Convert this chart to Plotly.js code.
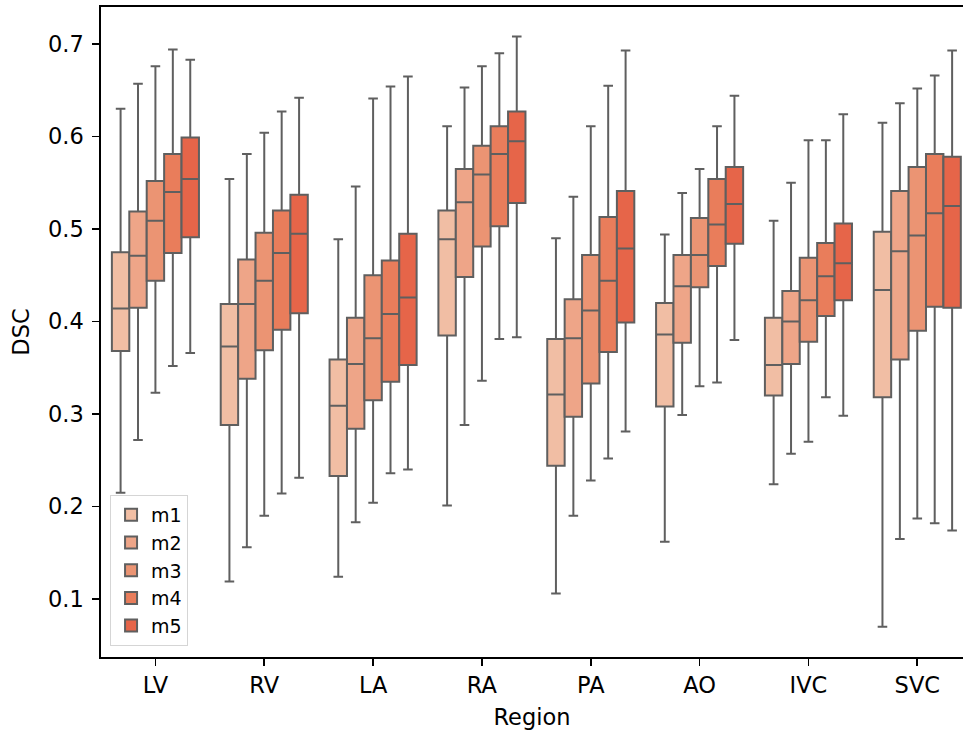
<!DOCTYPE html>
<html>
<head>
<meta charset="utf-8">
<script src="https://cdn.plot.ly/plotly-3.0.1.min.js"></script>
<style>html,body{margin:0;padding:0;background:#fff}#chart{width:964px;height:732px}</style>
</head>
<body>
<div id="chart"></div>
<script>
const regions = ["LV","RV","LA","RA","PA","AO","IVC","SVC"];
const models = ["m1","m2","m3","m4","m5"];
const colors = ["#F1BEA4","#EEA588","#EB9473","#E97D5B","#E66549"];

// per model: values for each region (LV,RV,LA,RA,PA,AO,IVC,SVC)
const m1_low = [0.215,0.119,0.124,0.201,0.106,0.162,0.224,0.070];
const m1_q1  = [0.368,0.288,0.233,0.385,0.244,0.308,0.320,0.318];
const m1_med = [0.414,0.373,0.309,0.489,0.321,0.386,0.353,0.434];
const m1_q3  = [0.475,0.419,0.359,0.520,0.381,0.420,0.404,0.497];
const m1_high= [0.630,0.554,0.489,0.611,0.490,0.494,0.509,0.615];

const m2_low = [0.272,0.156,0.183,0.288,0.190,0.299,0.257,0.165];
const m2_q1  = [0.415,0.338,0.284,0.448,0.297,0.377,0.354,0.359];
const m2_med = [0.471,0.419,0.354,0.529,0.382,0.438,0.400,0.476];
const m2_q3  = [0.519,0.467,0.404,0.565,0.424,0.472,0.433,0.541];
const m2_high= [0.657,0.581,0.546,0.653,0.535,0.539,0.550,0.636];

const m3_low = [0.323,0.190,0.204,0.336,0.228,0.330,0.270,0.187];
const m3_q1  = [0.444,0.369,0.315,0.481,0.333,0.437,0.378,0.390];
const m3_med = [0.509,0.444,0.382,0.559,0.412,0.472,0.423,0.493];
const m3_q3  = [0.552,0.496,0.450,0.590,0.472,0.512,0.469,0.567];
const m3_high= [0.676,0.604,0.641,0.676,0.611,0.565,0.596,0.652];

const m4_low = [0.352,0.214,0.236,0.381,0.252,0.334,0.318,0.182];
const m4_q1  = [0.474,0.391,0.335,0.503,0.367,0.460,0.406,0.416];
const m4_med = [0.540,0.474,0.408,0.581,0.444,0.505,0.449,0.517];
const m4_q3  = [0.581,0.520,0.466,0.611,0.513,0.554,0.485,0.581];
const m4_high= [0.694,0.627,0.654,0.690,0.655,0.611,0.596,0.666];

const m5_low = [0.366,0.231,0.240,0.383,0.281,0.380,0.298,0.174];
const m5_q1  = [0.491,0.409,0.353,0.528,0.399,0.484,0.423,0.415];
const m5_med = [0.554,0.495,0.426,0.595,0.479,0.527,0.463,0.525];
const m5_q3  = [0.599,0.537,0.495,0.627,0.541,0.567,0.506,0.578];
const m5_high= [0.683,0.642,0.665,0.708,0.693,0.644,0.624,0.693];

const stats = [
  [m1_low,m1_q1,m1_med,m1_q3,m1_high],
  [m2_low,m2_q1,m2_med,m2_q3,m2_high],
  [m3_low,m3_q1,m3_med,m3_q3,m3_high],
  [m4_low,m4_q1,m4_med,m4_q3,m4_high],
  [m5_low,m5_q1,m5_med,m5_q3,m5_high]
];

const lineCol = "#5f5f5f";
const traces = models.map((m,i)=>({
  type:"box",
  name:m,
  legendgroup:m,
  x:regions,
  lowerfence:stats[i][0],
  q1:stats[i][1],
  median:stats[i][2],
  q3:stats[i][3],
  upperfence:stats[i][4],
  fillcolor:colors[i],
  line:{color:lineCol,width:2},
  whiskerwidth:0.55,
  boxpoints:false,
  hoverinfo:"skip"
}));

const font = {family:"DejaVu Sans, sans-serif", size:22.5, color:"#000"};
const layout = {
  width:964, height:732,
  margin:{l:101,r:1,t:7,b:75},
  paper_bgcolor:"#fff", plot_bgcolor:"#fff",
  boxmode:"group", boxgap:0.2, boxgroupgap:0,
  font:font,
  showlegend:true,
  legend:{
    x:0.0105, y:0.017, xanchor:"left", yanchor:"bottom",
    bgcolor:"rgba(255,255,255,0.8)", bordercolor:"#d5d5d5", borderwidth:1,
    font:{family:"DejaVu Sans, sans-serif", size:19, color:"#000"},
    traceorder:"normal", tracegroupgap:5
  },
  xaxis:{
    type:"category", range:[-0.5,7.42],
    showline:true, linecolor:"#000", linewidth:1.7, mirror:true,
    ticks:"outside", ticklen:7, tickwidth:1.7, tickcolor:"#000",
    showgrid:false, zeroline:false,
    tickfont:font,
    title:{text:"Region", font:font, standoff:12}
  },
  yaxis:{
    range:[0.0373,0.740],
    tickvals:[0.1,0.2,0.3,0.4,0.5,0.6,0.7],
    ticktext:["0.1","0.2","0.3","0.4","0.5","0.6","0.7"],
    showline:true, linecolor:"#000", linewidth:1.7,
    ticks:"outside", ticklen:7, tickwidth:1.7, tickcolor:"#000",
    ticklabelstandoff:4,
    showgrid:false, zeroline:false,
    tickfont:font,
    title:{text:"DSC", font:font, standoff:12}
  }
};

Plotly.newPlot("chart", traces, layout, {displayModeBar:false, staticPlot:true});
</script>
</body>
</html>
